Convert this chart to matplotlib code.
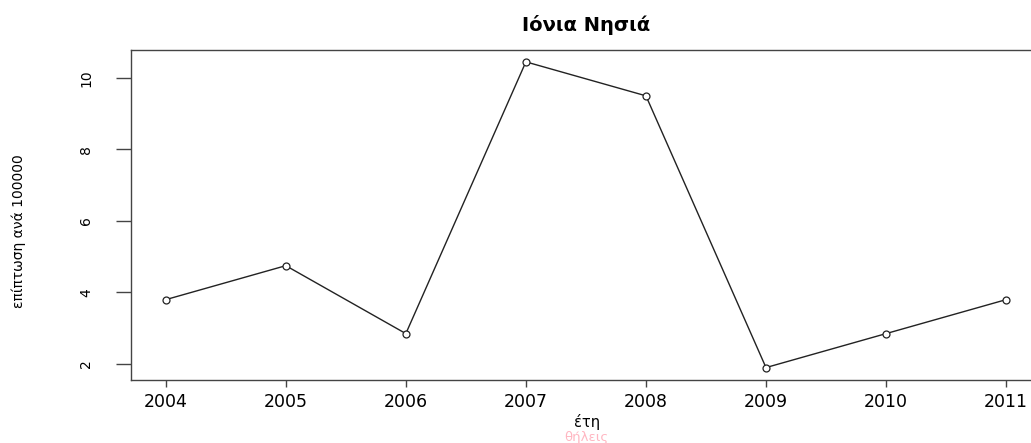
import numpy as np
import matplotlib
matplotlib.use("Agg")
import matplotlib.pyplot as plt

# data
years = [2004, 2005, 2006, 2007, 2008, 2009, 2010, 2011]
incidence = [3.8, 4.75, 2.85, 10.45, 9.5, 1.9, 2.85, 3.8]
yticks = [2, 4, 6, 8, 10]

title = "Ιόνια Νησιά"
xlab = "έτη"
ylab = "επίπτωση ανά 100000"
sub = "θήλεις"

plt.rcParams['font.family'] = ['DejaVu Sans']

fig = plt.figure(figsize=(10.31, 4.43), dpi=100)
# the original is cropped on the right, so the axes run past the figure edge
ax = fig.add_axes([0.127, 0.142, 0.8826, 0.745])

ax.plot(years, incidence, color="#222222", lw=1.0,
        marker="o", ms=5, mfc="white", mec="#222222", mew=0.9)

ax.set_xlim(2003.71, 2011.29)
ax.set_ylim(1.55, 10.78)
ax.set_xticks(years)
ax.set_yticks(yticks)
ax.set_xticklabels([str(y) for y in years], fontsize=12.5)
ax.set_yticklabels([str(v) for v in yticks], fontsize=10, rotation=90, va="center")

ax.tick_params(axis="y", length=11, width=1, color="#444444", pad=16)
ax.tick_params(axis="x", length=5, width=1, color="#444444", pad=4)
for s in ax.spines.values():
    s.set_color("#444444")
    s.set_linewidth(1.0)

ax.set_title(title, fontsize=14, fontweight="bold", pad=14)

ax.set_ylabel(ylab, fontsize=10)
ax.yaxis.set_label_coords(-0.115, 0.45)

fig.text(0.569, 0.047, xlab, ha="center", va="center", fontsize=10.5)
fig.text(0.569, 0.013, sub, ha="center", va="center", fontsize=9.5, color="#ffb6c1")

fig.savefig("out.png", dpi=100)
